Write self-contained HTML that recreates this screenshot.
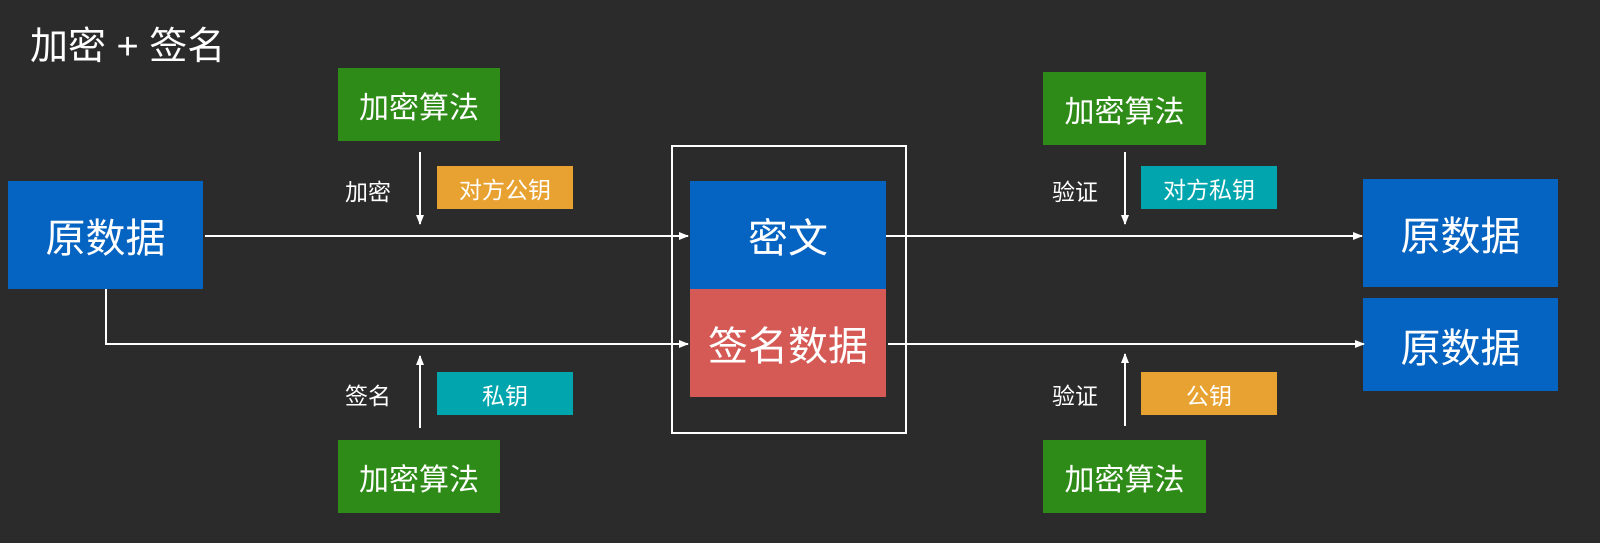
<!DOCTYPE html>
<html><head><meta charset="utf-8"><style>
html,body{margin:0;padding:0;background:#2b2b2b;}
body{width:1600px;height:543px;position:relative;overflow:hidden;font-family:"Liberation Sans","Noto Sans CJK SC",sans-serif;color:#fff;}
.b{position:absolute;display:flex;align-items:center;justify-content:center;color:#fff;}
.blue{background:#0563c1;font-size:40px;}
.green{background:#2e8b17;font-size:30px;}
.org{background:#e8a232;font-size:23px;}
.teal{background:#00a5ad;font-size:23px;}
.lbl{position:absolute;font-size:23px;color:#fff;}
</style></head><body>
<div style="position:absolute;left:30px;top:15px;font-size:38px;">加密 + 签名</div>

<div class="b blue" style="left:8px;top:181px;width:195px;height:108px;">原数据</div>

<div class="b green" style="left:338px;top:68px;width:162px;height:73px;">加密算法</div>
<div class="b green" style="left:338px;top:440px;width:162px;height:73px;">加密算法</div>
<div class="b green" style="left:1043px;top:72px;width:163px;height:73px;">加密算法</div>
<div class="b green" style="left:1043px;top:440px;width:163px;height:73px;">加密算法</div>

<div class="b org" style="left:437px;top:166px;width:136px;height:43px;">对方公钥</div>
<div class="b teal" style="left:437px;top:372px;width:136px;height:43px;">私钥</div>
<div class="b teal" style="left:1141px;top:166px;width:136px;height:43px;">对方私钥</div>
<div class="b org" style="left:1141px;top:372px;width:136px;height:43px;">公钥</div>

<div class="lbl" style="left:345px;top:173px;">加密</div>
<div class="lbl" style="left:345px;top:377px;">签名</div>
<div class="lbl" style="left:1052px;top:173px;">验证</div>
<div class="lbl" style="left:1052px;top:377px;">验证</div>

<div style="position:absolute;left:671px;top:145px;width:232px;height:285px;border:2px solid #fff;"></div>
<div class="b blue" style="left:690px;top:181px;width:196px;height:108px;">密文</div>
<div class="b" style="left:690px;top:289px;width:196px;height:108px;background:#d55a55;font-size:40px;">签名数据</div>

<div class="b blue" style="left:1363px;top:179px;width:195px;height:108px;">原数据</div>
<div class="b blue" style="left:1363px;top:298px;width:195px;height:93px;">原数据</div>

<svg width="1600" height="543" style="position:absolute;left:0;top:0;">
<defs><marker id="a" markerWidth="10" markerHeight="10" refX="9" refY="5" orient="auto" markerUnits="userSpaceOnUse"><path d="M0,1 L10,5 L0,9 z" fill="#fff"/></marker></defs>
<g stroke="#fff" stroke-width="2" fill="none">
<line x1="205" y1="236" x2="688" y2="236" marker-end="url(#a)"/>
<polyline points="106,289 106,344 688,344" marker-end="url(#a)"/>
<line x1="886" y1="236" x2="1362" y2="236" marker-end="url(#a)"/>
<line x1="888" y1="344" x2="1364" y2="344" marker-end="url(#a)"/>
<line x1="420" y1="152" x2="420" y2="224" marker-end="url(#a)"/>
<line x1="420" y1="428" x2="420" y2="356" marker-end="url(#a)"/>
<line x1="1125" y1="152" x2="1125" y2="224" marker-end="url(#a)"/>
<line x1="1125" y1="426" x2="1125" y2="354" marker-end="url(#a)"/>
</g></svg>
</body></html>
